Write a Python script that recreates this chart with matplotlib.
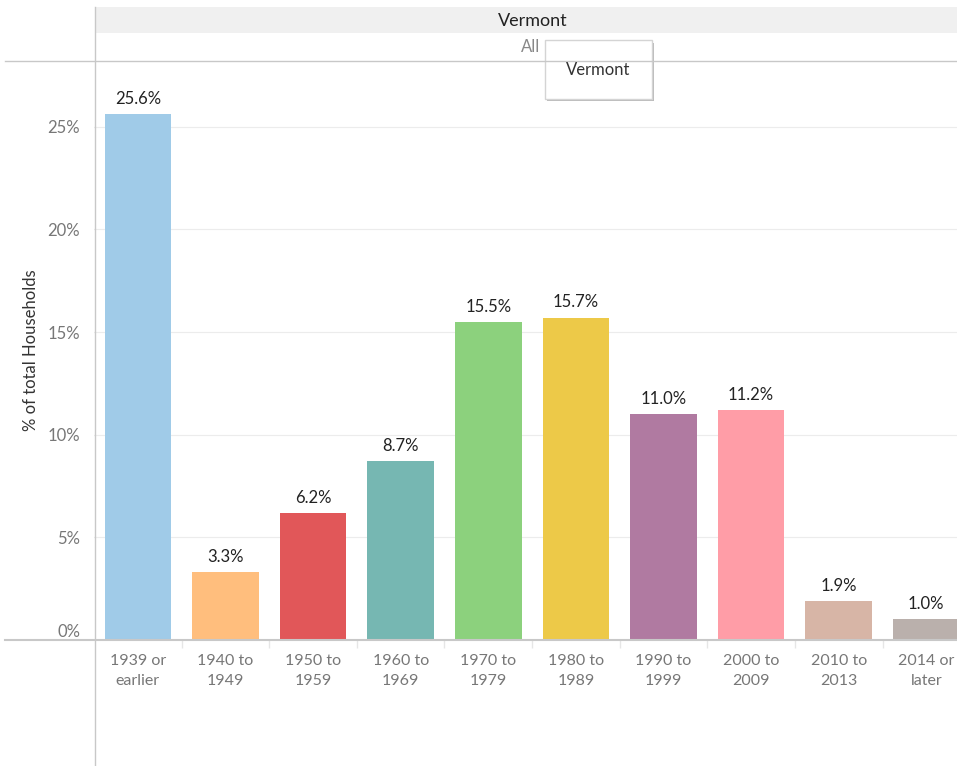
import matplotlib
matplotlib.use("Agg")
import matplotlib.pyplot as plt
from matplotlib.patches import Rectangle
from matplotlib.ticker import FuncFormatter, MultipleLocator

plt.rcParams["font.family"] = ["Lato", "DejaVu Sans"]

categories = ["1939 or\nearlier", "1940 to\n1949", "1950 to\n1959", "1960 to\n1969", "1970 to\n1979",
              "1980 to\n1989", "1990 to\n1999", "2000 to\n2009", "2010 to\n2013", "2014 or\nlater"]
values = [25.6, 3.3, 6.2, 8.7, 15.5, 15.7, 11.0, 11.2, 1.9, 1.0]
colors = ["#a0cbe8", "#ffbe7d", "#e15759", "#76b7b2", "#8cd17d",
          "#edc948", "#b07aa1", "#ff9da7", "#d7b5a6", "#bab0ac"]
state = "Vermont"

W, H = 957, 766
fig = plt.figure(figsize=(W / 100, H / 100), dpi=100)


def fx(px):
    return px / W


def fy(py):
    return 1 - py / H


line_col = "#c8c8c8"
ax = fig.add_axes([fx(94), fy(640), fx(W - 94), fy(61) - fy(640)])
x = list(range(len(values)))
ax.bar(x, values, width=0.76, color=colors, zorder=3)
for xi, v in zip(x, values):
    ax.text(xi, v + 0.35, f"{v:.1f}%", ha="center", va="bottom", fontsize=12, color="#222222", zorder=4)

ax.set_xlim(-0.5, 9.35)
ax.set_ylim(0, 28.2)
ax.yaxis.set_major_locator(MultipleLocator(5))
ax.yaxis.set_major_formatter(FuncFormatter(lambda v, _: f"{v:.0f}%"))
ax.grid(axis="y", color="#ececec", linewidth=0.8, zorder=0)
ax.tick_params(axis="y", length=0, labelsize=12, labelcolor="#777777", pad=10)
fig.canvas.draw()
for lab in ax.get_yticklabels():
    if lab.get_text() == "0%":
        lab.set_va("bottom")
ax.set_xticks(x)
ax.set_xticklabels(categories, fontsize=11.5, color="#777777", linespacing=1.55)
ax.tick_params(axis="x", length=0, pad=10)
ax.set_xticks([i + 0.5 for i in range(9)], minor=True)
ax.tick_params(axis="x", which="minor", length=6, color="#e6e6e6", width=1)
for side in ["top", "right", "bottom", "left"]:
    ax.spines[side].set_visible(False)
fig.text(fx(31), fy(350), "% of total Households", rotation=90, ha="center", va="center",
         fontsize=12, color="#333333")

# frame lines
fig.add_artist(plt.Line2D([fx(94.5), fx(94.5)], [fy(7), fy(766)], color=line_col, lw=1))
fig.add_artist(plt.Line2D([fx(5), 1], [fy(61), fy(61)], color=line_col, lw=1))
fig.add_artist(plt.Line2D([fx(5), 1], [fy(640), fy(640)], color=line_col, lw=1.5))

# header
fig.add_artist(Rectangle((fx(95), fy(33)), 1 - fx(95), fy(7) - fy(33), color="#f0f0f0", lw=0))
fig.text(fx(533), fy(21), state, ha="center", va="center", fontsize=13, color="#222222")
fig.text(fx(531), fy(47), "All", ha="center", va="center", fontsize=12, color="#888888")

# tooltip
fig.add_artist(Rectangle((fx(547), fy(101)), fx(107), fy(43) - fy(101), color="#bbbbbb", lw=0))
fig.add_artist(Rectangle((fx(545), fy(99)), fx(107), fy(40) - fy(99), facecolor="white",
                         edgecolor="#d4d4d4", lw=1))
fig.text(fx(598), fy(70), state, ha="center", va="center", fontsize=12, color="#333333")

fig.savefig("out.png", dpi=100)
